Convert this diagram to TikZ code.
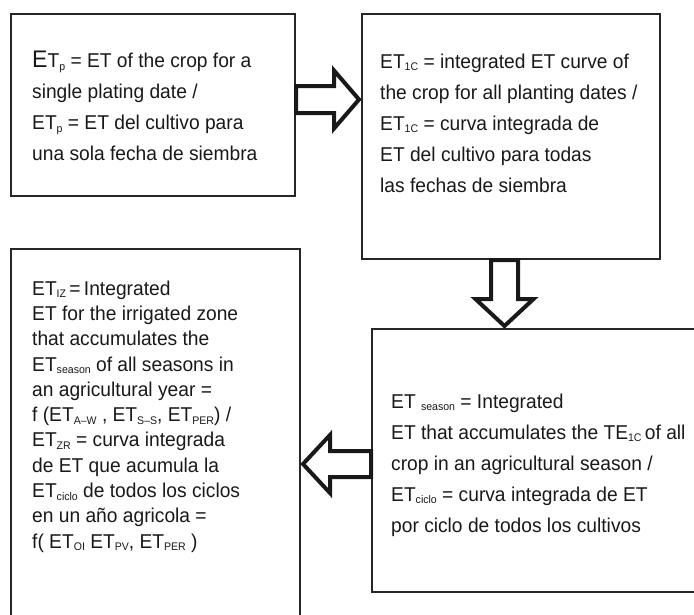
\documentclass[tikz,border=0pt]{standalone}
\usepackage{fontspec}
\setmainfont[FakeStretch=0.96]{Liberation Sans}
\usetikzlibrary{positioning, calc}

\newcommand{\sub}[1]{\raisebox{-2.5pt}{\fontsize{11}{11}\selectfont #1}}

\begin{document}
\begin{tikzpicture}[x=1pt, y=-1pt, line join=miter,
  box/.style={draw=black!85, line width=2pt, fill=none, shape=rectangle, inner sep=0pt, anchor=north west},
  txt/.style={anchor=north west, inner sep=0pt, align=left, text=black!90, font=\fontsize{20}{31}\selectfont},
  blockarrow/.style={draw=black!90, line width=4pt, fill=white}]
  \useasboundingbox (0,0) rectangle (694,614);

  \node[box, minimum width=284pt, minimum height=182pt] (crop) at (10,13) {};
  \node[box, minimum width=298pt, minimum height=245pt] (curve) at (361,13) {};
  \node[box, minimum width=429pt, minimum height=263pt] (season) at (371,328) {};
  \node[box, minimum width=289pt, minimum height=452pt] (zone) at (10,248) {};

  \node[txt] (croptext) at ($(crop.north west)+(22,37.8)$) {{\fontsize{24}{31}\selectfont E}T\sub{p} = ET of the crop for a\\
    single plating date /\\
    ET\sub{p} = ET del cultivo para\\
    una sola fecha de siembra};
  \node[txt] (curvetext) at ($(curve.north west)+(19,40.4)$) {ET\sub{1C} = integrated ET curve of\\
    the crop for all planting dates /\\
    ET\sub{1C} = curva integrada de\\
    ET del cultivo para todas\\
    las fechas de siembra};
  \node[txt] (seasontext) at ($(season.north west)+(20,65.4)$) {ET \sub{season} = Integrated\\
    ET that accumulates the TE\sub{1C}\,of all\\
    crop in an agricultural season /\\
    ET\sub{ciclo} = curva integrada de ET\\
    por ciclo de todos los cultivos};
  \node[txt, font=\fontsize{20}{25.3}\selectfont] (zonetext) at ($(zone.north west)+(22,32.4)$) {ET\sub{IZ}\,=\,Integrated\\
    ET for the irrigated zone\\
    that accumulates the\\
    ET\sub{season} of all seasons in\\
    an agricultural year =\\
    f (ET\sub{A–W} , ET\sub{S–S}, ET\sub{PER}) /\\
    ET\sub{ZR} = curva integrada\\
    de ET que acumula la\\
    ET\sub{ciclo} de todos los ciclos\\
    en un año agricola =\\
    f( ET\sub{OI} ET\sub{PV}, ET\sub{PER} )};

  % block arrows
  \coordinate (ra) at ($(crop.east)+(0,-5.5)$);
  \coordinate (da) at ($(curve.south)+(-6.5,0)$);
  \coordinate (la) at ($(season.west)+(0,3.5)$);
  \draw[blockarrow] ($(ra)+(0,-13.5)$) -- ++(38,0) -- ++(0,-15.5) -- ($(curve.west |- ra)+(-2,0)$)
    -- ($(ra)+(38,29)$) -- ++(0,-15.5) -- ($(ra)+(0,13.5)$) -- cycle;
  \draw[blockarrow] ($(da)+(-13.5,0)$) -- ++(0,39) -- ++(-15.5,0) -- ($(da |- season.north)+(0,-2)$)
    -- ($(da)+(29,39)$) -- ++(-15.5,0) -- ($(da)+(13.5,0)$) -- cycle;
  \draw[blockarrow] ($(la)+(0,-13)$) -- ++(-41,0) -- ++(0,-16) -- ($(zone.east |- la)+(2,0)$)
    -- ($(la)+(-41,29)$) -- ++(0,-16) -- ($(la)+(0,13)$) -- cycle;
\end{tikzpicture}
\end{document}
